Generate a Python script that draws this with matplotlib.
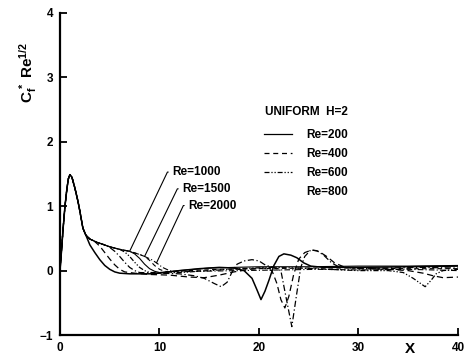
#Imports
import matplotlib
matplotlib.use('Agg')
import matplotlib.pyplot as plt
from matplotlib.lines import Line2D

plt.rcParams['font.family'] = ['Liberation Sans', 'DejaVu Sans']
plt.rcParams['font.weight'] = 'bold'
plt.rcParams['mathtext.fontset'] = 'custom'
plt.rcParams['mathtext.rm'] = 'Liberation Sans:bold'
plt.rcParams['mathtext.it'] = 'Liberation Sans:bold'
plt.rcParams['mathtext.bf'] = 'Liberation Sans:bold'
plt.rcParams['mathtext.default'] = 'bf'

#Skin friction curves (X, Cf*Re^1/2)
x_re200 = [0, 0.15, 0.3, 0.5, 0.7, 0.85, 1.0, 1.2, 1.5, 1.8, 2.0, 2.3, 2.6, 3.0, 3.5, 4.0, 4.5, 5.0, 5.5, 6.0, 7.0, 8.0, 9.0, 10.0,
           11.0, 12.0, 14.0, 16.0, 17.5, 18.5, 19.3, 19.8, 20.2, 20.6, 21.0, 21.5, 22.0, 22.5, 23.2, 23.8, 24.5, 25.2, 26.5,
           30.0, 35.0, 40.0]
y_re200 = [0, 0.30, 0.63, 1.00, 1.28, 1.43, 1.49, 1.45, 1.28, 1.08, 0.92, 0.66, 0.55, 0.40, 0.28, 0.17, 0.08, 0.02, -0.02, -0.04, -0.05, -0.05, -0.05, -0.04,
           -0.02, 0.0, 0.03, 0.05, 0.04, 0.0, -0.12, -0.30, -0.45, -0.32, -0.15, 0.08, 0.22, 0.26, 0.24, 0.20, 0.12, 0.07, 0.05,
           0.05, 0.06, 0.07]

x_re400 = [0, 0.15, 0.3, 0.5, 0.7, 0.85, 1.0, 1.2, 1.5, 1.8, 2.0, 2.3, 2.6, 3.0, 3.5, 4.0, 4.5, 5.0, 5.5, 6.0, 6.5, 7.5, 9.0,
           11.0, 13.0, 14.5, 16.0, 17.5, 19.0, 20.5, 21.3, 21.8, 22.2, 22.6, 23.0, 23.5, 24.0, 24.6, 25.3, 26.0, 26.8, 27.6,
           28.5, 30.0, 33.0, 35.0, 36.5, 37.5, 38.5, 40.0]
y_re400 = [0, 0.30, 0.63, 1.00, 1.28, 1.43, 1.49, 1.45, 1.28, 1.08, 0.92, 0.66, 0.55, 0.49, 0.45, 0.38, 0.28, 0.18, 0.09, 0.02, -0.02, -0.04, -0.06,
           -0.07, -0.10, -0.11, -0.07, -0.02, 0.02, 0.04, 0.0, -0.20, -0.45, -0.58, -0.40, -0.05, 0.18, 0.28, 0.32, 0.30, 0.22, 0.12,
           0.06, 0.03, 0.02, 0.0, -0.04, -0.08, -0.11, -0.10]

x_re600 = [0, 0.15, 0.3, 0.5, 0.7, 0.85, 1.0, 1.2, 1.5, 1.8, 2.0, 2.3, 2.6, 3.0, 3.7, 4.5, 5.0, 5.5, 6.0, 6.5, 7.0, 7.5, 8.0,
           10.0, 12.0, 13.5, 14.5, 15.5, 16.2, 16.8, 17.3, 17.8, 18.5, 19.3, 20.0, 20.7, 21.5, 22.2, 22.7, 23.3, 23.8, 24.2,
           24.6, 25.2, 25.8, 26.5, 27.3, 28.0, 30.0, 33.0, 36.0, 40.0]
y_re600 = [0, 0.30, 0.63, 1.00, 1.28, 1.43, 1.49, 1.45, 1.28, 1.08, 0.92, 0.66, 0.55, 0.49, 0.44, 0.40, 0.36, 0.30, 0.22, 0.13, 0.05, 0.0, -0.03,
           -0.04, -0.05, -0.08, -0.12, -0.20, -0.25, -0.18, -0.02, 0.10, 0.15, 0.17, 0.15, 0.08, 0.05, 0.0, -0.40, -0.87, -0.35, 0.05,
           0.22, 0.32, 0.31, 0.24, 0.12, 0.06, 0.03, 0.04, 0.05, 0.04]

x_re800 = [0, 0.15, 0.3, 0.5, 0.7, 0.85, 1.0, 1.2, 1.5, 1.8, 2.0, 2.3, 2.6, 3.0, 3.7, 5.0, 5.5, 6.0, 6.5, 7.0, 7.5, 8.0, 8.5, 9.0,
           12.0, 15.0, 18.0, 21.0, 24.0, 27.0, 30.0, 33.0, 34.5, 35.5, 36.7, 37.3, 37.8, 38.5, 40.0]
y_re800 = [0, 0.30, 0.63, 1.00, 1.28, 1.43, 1.49, 1.45, 1.28, 1.08, 0.92, 0.66, 0.55, 0.49, 0.44, 0.37, 0.35, 0.33, 0.29, 0.22, 0.13, 0.05, 0.0, -0.03,
           -0.03, 0.0, 0.03, 0.05, 0.04, 0.02, 0.0, 0.0, -0.03, -0.12, -0.25, -0.15, -0.05, 0.0, 0.02]

x_re1000 = [0, 0.15, 0.3, 0.5, 0.7, 0.85, 1.0, 1.2, 1.5, 1.8, 2.0, 2.3, 2.6, 3.0, 3.7, 5.0, 6.0, 7.0, 7.5, 8.0, 8.5, 9.0, 9.5, 10.0,
            12.0, 15.0, 20.0, 25.0, 30.0, 35.0, 40.0]
y_re1000 = [0, 0.30, 0.63, 1.00, 1.28, 1.43, 1.49, 1.45, 1.28, 1.08, 0.92, 0.66, 0.55, 0.49, 0.44, 0.37, 0.33, 0.30, 0.26, 0.19, 0.10, 0.03, -0.01, -0.03,
            0.0, 0.04, 0.06, 0.06, 0.07, 0.07, 0.08]

x_re1500 = [0, 0.15, 0.3, 0.5, 0.7, 0.85, 1.0, 1.2, 1.5, 1.8, 2.0, 2.3, 2.6, 3.0, 3.7, 5.0, 6.0, 7.0, 8.0, 8.5, 9.0, 9.5, 10.0, 10.5, 11.0,
            13.0, 16.0, 20.0, 25.0, 30.0, 35.0, 40.0]
y_re1500 = [0, 0.30, 0.63, 1.00, 1.28, 1.43, 1.49, 1.45, 1.28, 1.08, 0.92, 0.66, 0.55, 0.49, 0.44, 0.37, 0.33, 0.30, 0.25, 0.22, 0.16, 0.08, 0.02, -0.01, -0.02,
            0.0, 0.02, 0.03, 0.04, 0.04, 0.03, 0.03]

x_re2000 = [0, 0.15, 0.3, 0.5, 0.7, 0.85, 1.0, 1.2, 1.5, 1.8, 2.0, 2.3, 2.6, 3.0, 3.7, 5.0, 6.0, 7.0, 8.0, 8.5, 9.2, 9.7, 10.3, 11.0, 11.8,
            14.0, 18.0, 22.0, 26.0, 30.0, 35.0, 40.0]
y_re2000 = [0, 0.30, 0.63, 1.00, 1.28, 1.43, 1.49, 1.45, 1.28, 1.08, 0.92, 0.66, 0.55, 0.49, 0.44, 0.37, 0.33, 0.30, 0.25, 0.22, 0.17, 0.12, 0.05, 0.0, -0.02,
            -0.01, 0.0, 0.01, 0.02, 0.01, 0.02, 0.0]

#Labels and annotation anchors
legend_title = 'UNIFORM  H=2'
legend_labels = ['Re=200', 'Re=400', 'Re=600', 'Re=800']
note_labels = ['Re=1000', 'Re=1500', 'Re=2000']
note_text_xy = [(11.3, 1.53), (12.3, 1.27), (12.9, 1.01)]
note_point_xy = [(7.0, 0.30), (8.5, 0.22), (9.7, 0.12)]
y_ticks = [-1, 0, 1, 2, 3, 4]
x_ticks = [0, 10, 20, 30, 40]

#Plot
fig = plt.figure(figsize=(4.68, 3.61), dpi=100)
ax = fig.add_axes([0.1282, 0.072, 0.8504, 0.892])

ax.plot(x_re200, y_re200, color='k', lw=1.1, ls='-')
ax.plot(x_re400, y_re400, color='k', lw=0.9, ls=(0, (5, 3)))
ax.plot(x_re600, y_re600, color='k', lw=0.9, ls=(0, (5, 2, 1, 2)))
ax.plot(x_re800, y_re800, color='k', lw=0.9, ls=(0, (4, 1.5, 1, 1.5, 1, 1.5)))
ax.plot(x_re1000, y_re1000, color='k', lw=0.8, ls='-')
ax.plot(x_re1500, y_re1500, color='k', lw=0.8, ls=(0, (4, 3)))
ax.plot(x_re2000, y_re2000, color='k', lw=0.8, ls=(0, (5, 2, 1, 2)))

ax.set_xlim(0, 40)
ax.set_ylim(-1, 4)
ax.set_xticks(x_ticks)
ax.set_yticks(y_ticks)
ax.tick_params(direction='in', length=5, width=1.3, labelsize=8.5, pad=5)
for s in ['top', 'right']:
    ax.spines[s].set_visible(False)
for s in ['left', 'bottom']:
    ax.spines[s].set_linewidth(1.6)

#Legend (title drawn separately for spacing)
ax.text(0.516, 0.693, legend_title, transform=ax.transAxes, fontsize=8.5, ha='left', va='center')
handles = [Line2D([], [], color='k', lw=0.9, ls='-'),
           Line2D([], [], color='k', lw=0.9, ls=(0, (4, 3))),
           Line2D([], [], color='k', lw=0.9, ls=(0, (4, 1.5, 1, 1.5, 1, 1.5))),
           Line2D([], [], color='none')]
leg = ax.legend(handles, legend_labels, loc='upper left',
                bbox_to_anchor=(0.512, 0.64), frameon=False, fontsize=8.5,
                handlelength=2.4, handletextpad=1.2, labelspacing=0.6,
                borderpad=0, borderaxespad=0)

#Leader annotations
for lab, txy, pxy in zip(note_labels, note_text_xy, note_point_xy):
    ax.annotate(lab, xy=pxy, xytext=txy, fontsize=8.5, ha='left', va='center',
                arrowprops=dict(arrowstyle='-', lw=0.8, color='k', relpos=(0, 0.5),
                                shrinkA=1, shrinkB=0,
                                connectionstyle='arc,angleA=180,armA=5,angleB=0,armB=0,rad=0'))

ax.text(0.879, -0.045, 'X', transform=ax.transAxes, fontsize=11, ha='center', va='center')
fig.text(28 / 468, 1 - 72 / 361, r'C$_f^{\,*}$ Re$^{1/2}$', rotation=90, fontsize=11,
         ha='center', va='center')

plt.savefig('out.png', dpi=100)
